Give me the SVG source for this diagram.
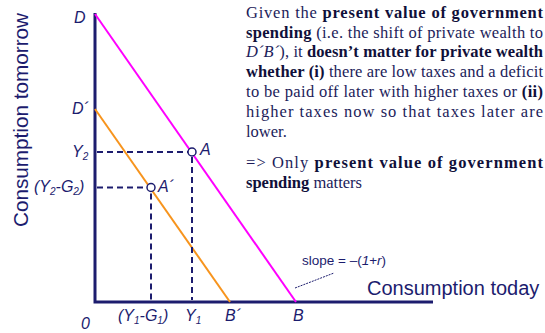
<svg xmlns="http://www.w3.org/2000/svg" width="545" height="333" viewBox="0 0 545 333">
<style>
.axis{stroke:#1c1c6e;stroke-width:3;fill:none}
.dash{stroke:#1c1c6e;stroke-width:2;stroke-dasharray:6 4;fill:none}
.lbl{font-family:"Liberation Sans",Arial,sans-serif;font-style:italic;fill:#1c1c6e;font-size:16px}
.ax{font-family:"Liberation Sans",Arial,sans-serif;fill:#1c1c6e;font-size:20px}
.body{font-family:"Liberation Serif","Times New Roman",serif;fill:#1c1c5a;font-size:16.5px}
.b{font-weight:bold;fill:#10103a}
.pt{fill:#fff;stroke:#1c1c6e;stroke-width:1.5}
</style>
<rect width="545" height="333" fill="#fff"/>
<g id="axes">
<path class="axis" d="M95,13 V302 H433"/>
</g>
<g id="connectors">
<line x1="95" y1="14" x2="296" y2="302" stroke="#ff00ff" stroke-width="2"/>
<line x1="95" y1="109" x2="230" y2="302" stroke="#f7941d" stroke-width="2"/>
<path class="dash" d="M97,152 H192 V300"/>
<path class="dash" d="M97,187.5 H151 V300"/>
<line x1="295" y1="288" x2="334" y2="273" stroke="#1c1c6e" stroke-width="1" stroke-dasharray="2 1"/>
</g>
<g id="point-A">
<circle class="pt" cx="192" cy="152" r="4"/>
<text class="lbl" x="200" y="155" font-size="17">A</text>
</g>
<g id="point-A2">
<circle class="pt" cx="151" cy="187.5" r="4"/>
<text class="lbl" x="158" y="192" font-size="17">A´</text>
</g>
<g id="labels">
<text class="lbl" x="74" y="23">D</text>
<text class="lbl" x="72" y="114">D´</text>
<text class="lbl" x="72" y="157">Y<tspan font-size="10" dy="3">2</tspan></text>
<text class="lbl" x="34" y="192">(Y<tspan font-size="10" dy="3">2</tspan><tspan dy="-3">-G</tspan><tspan font-size="10" dy="3">2</tspan><tspan dy="-3">)</tspan></text>
<text class="lbl" x="81" y="329" font-size="19">0</text>
<text class="lbl" x="118" y="321">(Y<tspan font-size="10" dy="3">1</tspan><tspan dy="-3">-G</tspan><tspan font-size="10" dy="3">1</tspan><tspan dy="-3">)</tspan></text>
<text class="lbl" x="185" y="321">Y<tspan font-size="10" dy="3">1</tspan></text>
<text class="lbl" x="225" y="321">B´</text>
<text class="lbl" x="293" y="321">B</text>
<text x="302" y="265" font-family="Liberation Sans,Arial,sans-serif" font-size="13.5" fill="#1c1c6e">slope = –(<tspan font-style="italic">1</tspan>+<tspan font-style="italic">r</tspan>)</text>
<text class="ax" x="367" y="295">Consumption today</text>
<text class="ax" transform="translate(28,227) rotate(-90)" x="0" y="0" textLength="214" lengthAdjust="spacingAndGlyphs">Consumption tomorrow</text>
</g>
<g id="explanation" class="body">
<text x="246" y="18" textLength="297" lengthAdjust="spacing">Given the <tspan class="b">present value of government</tspan></text>
<text x="246" y="37.5" textLength="297" lengthAdjust="spacing"><tspan class="b">spending</tspan> (i.e. the shift of private wealth to</text>
<text x="246" y="57" textLength="297" lengthAdjust="spacing"><tspan font-style="italic">D´B´</tspan>), it <tspan class="b">doesn’t matter for private wealth</tspan></text>
<text x="246" y="76.5" textLength="297" lengthAdjust="spacing"><tspan class="b">whether (i)</tspan> there are low taxes and a deficit</text>
<text x="246" y="96.5" textLength="297" lengthAdjust="spacing">to be paid off later with higher taxes or <tspan class="b">(ii)</tspan></text>
<text x="246" y="116.5" textLength="297" lengthAdjust="spacing">higher taxes now so that taxes later are</text>
<text x="246" y="136.5">lower.</text>
<text x="246" y="168" textLength="297" lengthAdjust="spacing">=&gt; Only <tspan class="b">present value of government</tspan></text>
<text x="246" y="187.5"><tspan class="b">spending</tspan> matters</text>
</g>
</svg>
